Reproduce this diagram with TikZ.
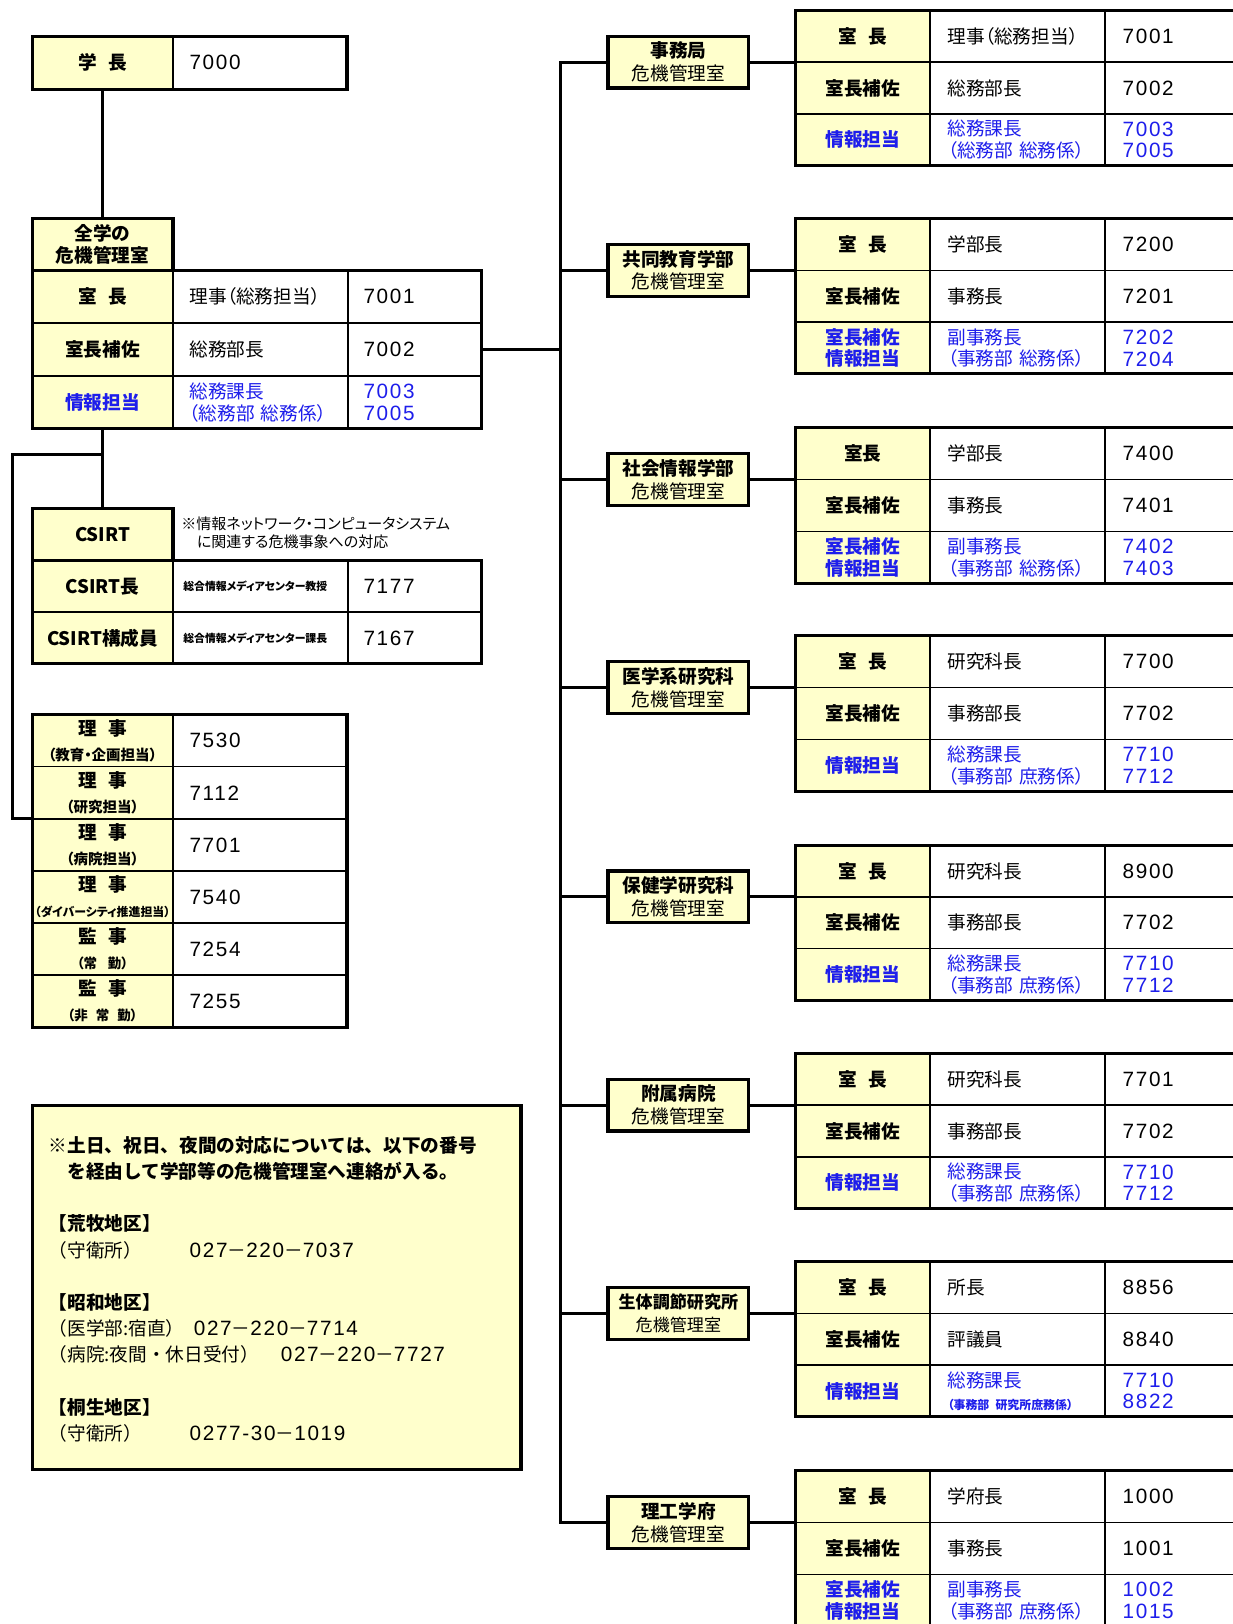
\documentclass[tikz,border=0pt]{standalone}
\usepackage{fontspec}
\setmainfont{Noto Sans CJK JP}[RawFeature={+palt}]
\newfontfamily\jpm{Noto Sans CJK JP}
\newfontfamily\digf[LetterSpace=8]{Liberation Sans}
\definecolor{cy}{RGB}{255,255,204}
\definecolor{cb}{RGB}{30,30,235}
\newcommand\gap{\hspace{.6em}}
\newcommand\fs[2]{\fontsize{#1}{#2}\selectfont}
\newcommand\tel[3]{{\digf\fs{20}{25.3}#1}－{\digf\fs{20}{25.3}#2}－{\digf\fs{20}{25.3}#3}}
\tikzset{
 conn/.style={line width=3pt, line cap=rect},
 frame/.style={line width=3pt},
 cellbase/.style={draw, line width=1.3pt, inner sep=0pt, outer sep=0pt, anchor=north west},
 cY/.style={cellbase, fill=cy, align=center, font=\bfseries\fs{18}{21}, minimum width=#1},
 cY/.default=130pt,
 cW/.style={cellbase, fill=white, align=left, font=\fs{18}{21}},
 rb/.style={cW, inner xsep=17pt, minimum width=169pt, text width=135pt, minimum height=50pt},
 rc/.style={cW, inner xsep=17pt, minimum width=133pt, text width=99pt, minimum height=50pt, font=\digf\fs{20}{21}},
 lb/.style={cW, inner xsep=16pt, minimum width=169pt, text width=137pt, minimum height=51pt},
 lc/.style={cW, inner xsep=15pt, minimum width=129pt, text width=99pt, minimum height=51pt, font=\digf\fs{20}{21}},
 dept/.style={draw, line width=3pt, fill=cy, minimum width=136pt, minimum height=50pt, inner sep=0pt, align=center, font=\fs{18}{22}},
}
% right-hand tables
\newcommand\rtbl[9]{%
 \node[dept] (#1d) at (655,{#2+50}) {#3};
 \node[cY, minimum height=50pt] (#1a1) at (768,#2) {#4};
 \node[rb] (#1b1) at (898,#2) {#5};
 \node[rc] (#1c1) at (1067,#2) {#6};
 \node[cY, minimum height=50pt] (#1a2) at (768,{#2+50}) {室長補佐};
 \node[rb] (#1b2) at (898,{#2+50}) {#7};
 \node[rc] (#1c2) at (1067,{#2+50}) {#8};
 \node[cY, minimum height=50pt, text=cb] (#1a3) at (768,{#2+100}) {#9};
}
\newcommand\rtblend[4]{%
 \node[rb, text=cb] (#1b3) at (898,{#2+100}) {#3};
 \node[rc, text=cb] (#1c3) at (1067,{#2+100}) {#4};
 \draw[frame] (#1a1.north west) rectangle (#1c3.south east);
 \draw[conn] (#1d.west -| trunk) -- (#1d.west);
 \draw[conn] (#1d.east) -- (#1a1.south west);
}
% 理事 rows
\newcommand\rj[5]{%
 \node[cY=136pt, minimum height=50.3pt, font=\bfseries\fs{18}{24}] (#1a) at (31,#2) {#3\\{#4}};
 \node[lb, minimum width=168pt, text width=136pt, minimum height=50.3pt, font=\digf\fs{20}{21}] (#1b) at (167,#2) {#5};
}
\begin{document}
\begin{tikzpicture}[x=1pt,y=-1pt]
\fill[white] (0,0) rectangle (1190,1568);
\useasboundingbox (0,0) rectangle (1190,1568);
\coordinate (trunk) at (541,0);
\coordinate (lft) at (12,0);

% ---------- left column ----------
\node[cY=136pt, minimum height=51pt] (gk1) at (31,35) {学\gap 長};
\node[lb, minimum width=168pt, text width=136pt, font=\digf\fs{20}{21}] (gk2) at (167,35) {7000};
\draw[frame] (gk1.north west) rectangle (gk2.south east);

\node[cY=136pt, minimum height=50pt] (zh) at (31,211) {全学の\\危機管理室};
\node[cY=136pt, minimum height=51pt] (m1a) at (31,261) {室\gap 長};
\node[lb] (m1b) at (167,261) {理事（総務担当）};
\node[lc] (m1c) at (336,261) {7001};
\node[cY=136pt, minimum height=51pt] (m2a) at (31,312) {室長補佐};
\node[lb] (m2b) at (167,312) {総務部長};
\node[lc] (m2c) at (336,312) {7002};
\node[cY=136pt, minimum height=51pt, text=cb] (m3a) at (31,363) {情報担当};
\node[lb, text=cb] (m3b) at (167,363) {総務課長\\（総務部~総務係）};
\node[lc, text=cb] (m3c) at (336,363) {7003\\7005};
\draw[frame] (zh.north west) rectangle (zh.south east);
\draw[frame] (m1a.north west) rectangle (m3c.south east);

\node[cY=136pt, minimum height=50pt] (cs) at (31,491) {CSIRT};
\node[anchor=north west, align=left, inner sep=0pt, font=\fs{14.5}{17}] (csn) at (175,499)
  {※情報ネットワーク・コンピュータシステム\\\hspace*{15pt}に関連する危機事象への対応};
\node[cY=136pt, minimum height=50pt] (c1a) at (31,541) {CSIRT長};
\node[cW, inner xsep=10pt, minimum width=169pt, text width=149pt, minimum height=50pt, font=\bfseries\fs{10.5}{12}] (c1b) at (167,541) {総合情報メディアセンター教授};
\node[lc, minimum height=50pt] (c1c) at (336,541) {7177};
\node[cY=136pt, minimum height=50pt] (c2a) at (31,591) {CSIRT構成員};
\node[cW, inner xsep=10pt, minimum width=169pt, text width=149pt, minimum height=50pt, font=\bfseries\fs{10.5}{12}] (c2b) at (167,591) {総合情報メディアセンター課長};
\node[lc, minimum height=50pt] (c2c) at (336,591) {7167};
\draw[frame] (cs.north west) rectangle (cs.south east);
\draw[frame] (c1a.north west) rectangle (c2c.south east);

\rj{r1}{690}{理\gap 事}{\fs{14}{24}（教育・企画担当）}{7530}
\rj{r2}{740.3}{理\gap 事}{\fs{14}{24}（研究担当）}{7112}
\rj{r3}{790.6}{理\gap 事}{\fs{14}{24}（病院担当）}{7701}
\rj{r4}{840.9}{理\gap 事}{\fs{11.5}{24}（ダイバーシティ推進担当）}{7540}
\rj{r5}{891.2}{監\gap 事}{\fs{13}{24}（常\hspace{.8em}勤）}{7254}
\rj{r6}{941.5}{監\gap 事}{\fs{13}{24}（非\hspace{.6em}常\hspace{.6em}勤）}{7255}
\draw[frame] (r1a.north west) rectangle (r6b.south east);

\draw[conn] (gk1.south) -- (zh.north);
\draw[conn] (m3a.south) -- (cs.north);
\coordinate (br) at (99,439);
\draw[conn] (br) -- (br -| lft) |- (r3a.north west);
\draw[conn] (m2c.east) -- (m2c.east -| trunk);

% note box
\node[draw, line width=3pt, fill=cy, anchor=north west, minimum width=472pt, minimum height=352pt, inner sep=0pt, outer sep=0pt] (nb) at (31,1067) {};
\node[anchor=north west, align=left, inner sep=0pt, font=\jpm\fs{18}{25.3}] (nt) at (47,1097) {%
{\bfseries ※土日、祝日、夜間の対応については、以下の番号}\\
{\bfseries 　を経由して学部等の危機管理室へ連絡が入る。}\\[25.3pt]
{\bfseries 【荒牧地区】}\\
\makebox[136pt][l]{（守衛所）}\tel{027}{220}{7037}\\[25.3pt]
{\bfseries 【昭和地区】}\\
\makebox[140pt][l]{（医学部:宿直）}\tel{027}{220}{7714}\\
\makebox[224pt][l]{（病院:夜間・休日受付）}\tel{027}{220}{7727}\\[25.3pt]
{\bfseries 【桐生地区】}\\
\makebox[136pt][l]{（守衛所）}{\digf\fs{20}{25.3}0277-30}－{\digf\fs{20}{25.3}1019}};

% ---------- right column ----------
\rtbl{t1}{10}{{\bfseries 事務局}\\危機管理室}{室\gap 長}{理事（総務担当）}{7001}{総務部長}{7002}{情報担当}
\rtblend{t1}{10}{総務課長\\（総務部~総務係）}{7003\\7005}
\rtbl{t2}{211}{{\bfseries 共同教育学部}\\危機管理室}{室\gap 長}{学部長}{7200}{事務長}{7201}{室長補佐\\情報担当}
\rtblend{t2}{211}{副事務長\\（事務部~総務係）}{7202\\7204}
\rtbl{t3}{413}{{\bfseries 社会情報学部}\\危機管理室}{室長}{学部長}{7400}{事務長}{7401}{室長補佐\\情報担当}
\rtblend{t3}{413}{副事務長\\（事務部~総務係）}{7402\\7403}
\rtbl{t4}{614}{{\bfseries 医学系研究科}\\危機管理室}{室\gap 長}{研究科長}{7700}{事務部長}{7702}{情報担当}
\rtblend{t4}{614}{総務課長\\（事務部~庶務係）}{7710\\7712}
\rtbl{t5}{816}{{\bfseries 保健学研究科}\\危機管理室}{室\gap 長}{研究科長}{8900}{事務部長}{7702}{情報担当}
\rtblend{t5}{816}{総務課長\\（事務部~庶務係）}{7710\\7712}
\rtbl{t6}{1017}{{\bfseries 附属病院}\\危機管理室}{室\gap 長}{研究科長}{7701}{事務部長}{7702}{情報担当}
\rtblend{t6}{1017}{総務課長\\（事務部~庶務係）}{7710\\7712}
\rtbl{t7}{1218}{{\bfseries\fs{16.5}{20}生体調節研究所}\\{\fs{16.5}{20}危機管理室}}{室\gap 長}{所長}{8856}{評議員}{8840}{情報担当}
\rtblend{t7}{1218}{総務課長\\{\bfseries\fs{11.5}{22}（事務部~研究所庶務係）}}{7710\\8822}
\rtbl{t8}{1420}{{\bfseries 理工学府}\\危機管理室}{室\gap 長}{学府長}{1000}{事務長}{1001}{室長補佐\\情報担当}
\rtblend{t8}{1420}{副事務長\\（事務部~庶務係）}{1002\\1015}
\draw[conn] (t1d.west -| trunk) -- (t8d.west -| trunk);
\end{tikzpicture}
\end{document}
